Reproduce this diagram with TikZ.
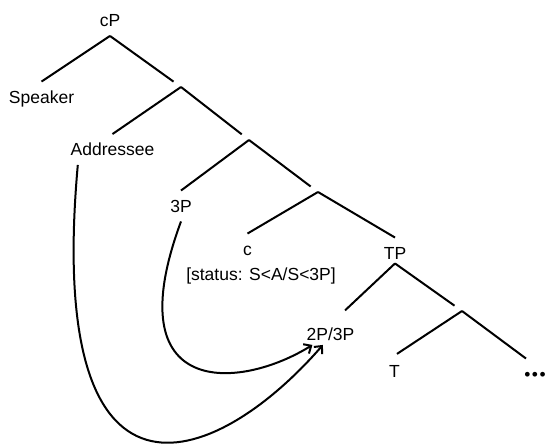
\documentclass[tikz,border=0pt]{standalone}
\usepackage{fontspec}
\setmainfont{Liberation Sans}
\usetikzlibrary{arrows.meta}

\begin{document}
\begin{tikzpicture}[
  x=1pt, y=-1pt,
  lab/.style={inner sep=9pt, text height=12.5pt, text depth=0pt,
              font=\fontsize{17.5}{20}\selectfont},
  bar/.style={circle, minimum size=18pt, inner sep=0pt},
  branch/.style={line width=2pt},
  move/.style={line width=2pt, ->},
  >={Straight Barb[length=6pt,width=11pt]}
]
\useasboundingbox (0,0) rectangle (547,446);

% Labelled nodes
\node[lab] (cP) at (110,20.5) {cP};
\node[lab] (spk) at (41.5,97) {Speaker};
\node[lab] (ad) at (112.5,149.5) {Addressee};
\node[lab] (p3) at (181,206) {3P};
\node[lab] (c) at (247.5,249) {c};
\node[lab] (st) at (261,274.5) {[status: S<A/S<3P]};
\node[lab] (TP) at (395,253) {TP};
\node[lab, inner ysep=4pt] (tp23) at (330.5,334.5) {2P/3P};
\node[lab] (T) at (394.5,371) {T};
\node[lab, inner xsep=0pt] (dots) at (535,374) {\textbullet\kern1.5pt\textbullet\kern1.5pt\textbullet};

% Bare branching nodes
\node[bar] (n1) at (181,87) {};
\node[bar] (n2) at (249,140) {};
\node[bar] (n3) at (318,192) {};
\node[bar] (n4) at (462,311) {};

% Branches
\draw[branch] (cP.south) -- (spk.north);
\draw[branch] (cP.south) -- (n1);
\draw[branch] (n1.center) -- (ad.north);
\draw[branch] (n1.center) -- (n2);
\draw[branch] (n2.center) -- (p3.north);
\draw[branch] (n2.center) -- (n3);
\draw[branch] (n3.center) -- (c.north);
\draw[branch] (n3.center) -- (TP.north);
\draw[branch, shorten >=20pt] ([yshift=5pt]TP.south) -- (tp23.north);
\draw[branch] ([yshift=5pt]TP.south) -- (n4);
\draw[branch, shorten >=3pt] (n4.center) -- (T.north);
\draw[branch] (n4.center) -- ([xshift=-9pt]dots.north);

% Movement arrows
\draw[move] (p3.south) .. controls (115,400) and (240,390) .. (tp23.210);
\draw[move] (ad.204) .. controls (45,530) and (212,472) .. (tp23.234);

\end{tikzpicture}
\end{document}
